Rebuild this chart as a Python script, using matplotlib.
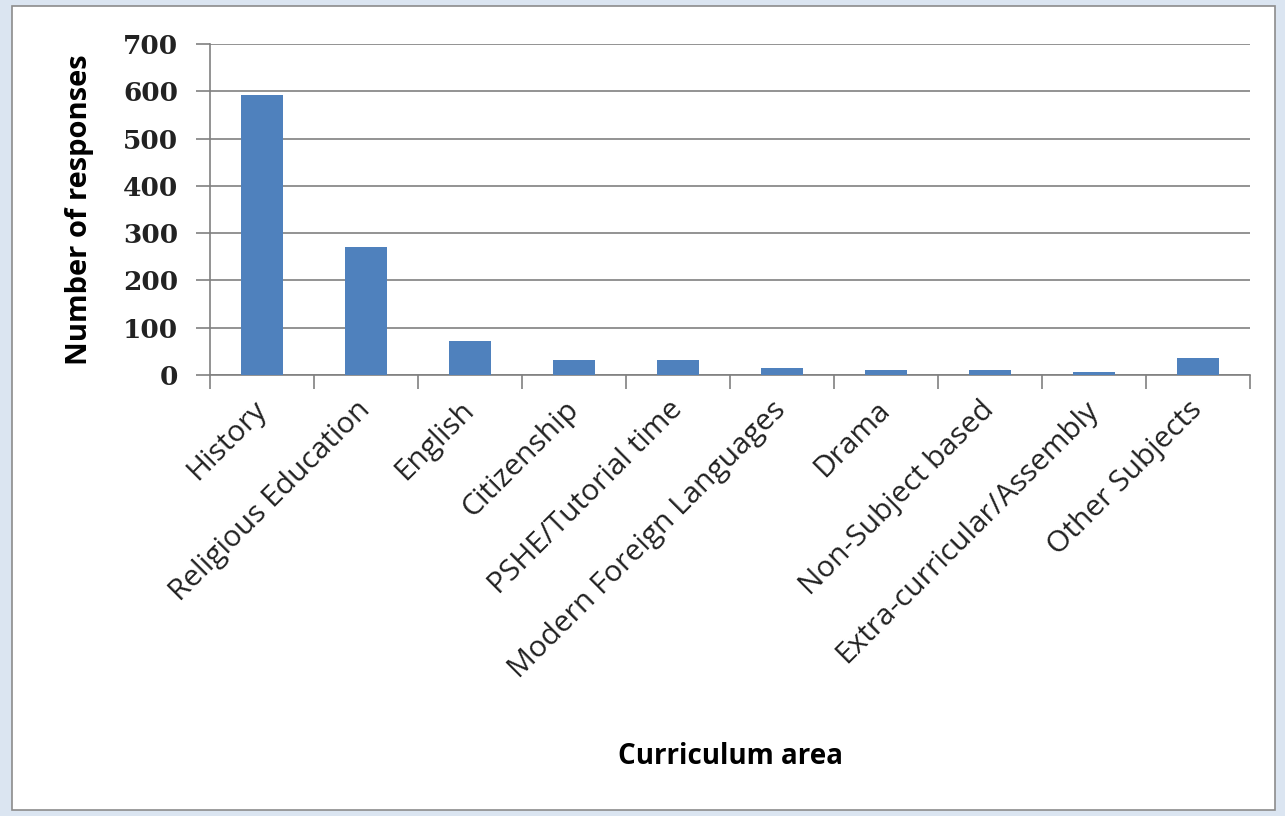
import matplotlib
matplotlib.use("Agg")
import matplotlib.pyplot as plt
from matplotlib.patches import Rectangle
import numpy as np

categories = ["History", "Religious Education", "English", "Citizenship",
              "PSHE/Tutorial time", "Modern Foreign Languages", "Drama",
              "Non-Subject based", "Extra-curricular/Assembly", "Other Subjects"]
values = [592, 270, 72, 32, 32, 14, 10, 10, 6, 37]
yticks = [0, 100, 200, 300, 400, 500, 600, 700]

W, H = 1285, 816
fig = plt.figure(figsize=(W/100, H/100), dpi=100)
fig.patch.set_facecolor("#dbe5f1")
fig.add_artist(Rectangle((12/W, 6/H), (1275-12)/W, (810-6)/H, transform=fig.transFigure,
                         facecolor="white", edgecolor="#8c8c8c", linewidth=1.2, zorder=0))

ax = fig.add_axes([210/W, 1-375/H, (1250-210)/W, (375-44)/H])
ax.set_facecolor("none")
x = np.arange(len(categories))
ax.bar(x, values, width=0.4, color="#4f81bd", zorder=3)
ax.set_xlim(-0.5, len(categories)-0.5)
ax.set_ylim(0, 700)
ax.set_yticks(yticks)
ax.set_yticklabels([str(t) for t in yticks], fontsize=19, fontweight="bold",
                   family="DejaVu Serif", color="#222222")
ax.yaxis.grid(True, color="#808080", linewidth=1.2, zorder=0)
for s in ["top", "right"]:
    ax.spines[s].set_visible(False)
ax.spines["left"].set_color("#808080")
ax.spines["bottom"].set_color("#808080")
ax.spines["left"].set_linewidth(1.2)
ax.spines["bottom"].set_linewidth(1.2)
ax.tick_params(axis="y", length=10, color="#808080", width=1.2, pad=13)
ax.set_xticks(np.arange(len(categories)+1)-0.5, minor=True)
ax.tick_params(axis="x", which="minor", length=10, color="#808080", width=1.2)
ax.set_xticks(x)
ax.tick_params(axis="x", which="major", length=0, pad=22)
ax.set_xticklabels(categories, rotation=45, ha="right", va="center", rotation_mode="anchor",
                   fontsize=21.5, family="Open Sans", color="#222222")
ax.set_ylabel("Number of responses", fontsize=21, fontweight="bold", family="Open Sans",
              va="center")
ax.yaxis.set_label_coords((80-210)/1040, 0.5)
ax.set_xlabel("Curriculum area", fontsize=20, fontweight="bold", family="Open Sans",
              va="center")
ax.xaxis.set_label_coords(0.5, (375-757)/331)

fig.savefig("out.png", dpi=100, facecolor=fig.get_facecolor())
